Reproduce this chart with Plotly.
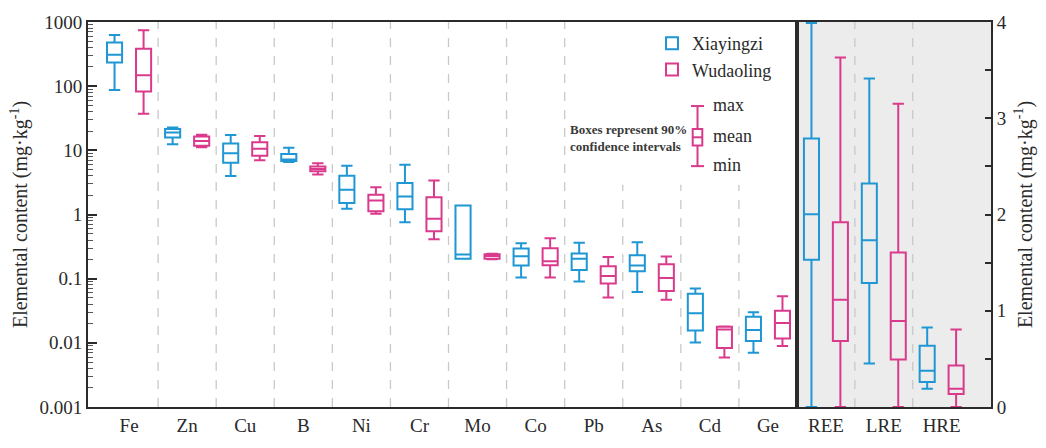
import plotly.graph_objects as go

# ---------------- data ----------------
elements = ["Fe", "Zn", "Cu", "B", "Ni", "Cr", "Mo", "Co", "Pb", "As", "Cd", "Ge"]
ree_groups = ["REE", "LRE", "HRE"]

# Xiayingzi (log panel): min, q1 (5%), mean, q3 (95%), max
xy_min = [87.5, 12.4, 3.97, 6.6, 1.23, 0.76, 0.205, 0.104, 0.090, 0.062, 0.0101, 0.0070]
xy_q1 = [234, 15.8, 6.4, 6.8, 1.51, 1.21, 0.205, 0.160, 0.137, 0.131, 0.0155, 0.0107]
xy_mean = [310, 19.0, 9.0, 7.2, 2.42, 1.90, 0.238, 0.224, 0.204, 0.160, 0.029, 0.0159]
xy_q3 = [478, 21.5, 12.8, 8.8, 4.0, 3.10, 1.38, 0.294, 0.247, 0.232, 0.058, 0.0254]
xy_max = [627, 22.7, 17.4, 11.0, 5.75, 5.97, 1.38, 0.358, 0.363, 0.371, 0.070, 0.030]

# Wudaoling (log panel)
wd_min = [37.1, 11.2, 7.0, 4.2, 1.03, 0.41, 0.200, 0.104, 0.051, 0.047, 0.0059, 0.0089]
wd_q1 = [82.4, 11.8, 8.2, 4.7, 1.12, 0.55, 0.205, 0.162, 0.084, 0.064, 0.0083, 0.0117]
wd_mean = [148, 14.0, 10.6, 5.1, 1.66, 0.86, 0.225, 0.186, 0.110, 0.102, 0.0161, 0.0203]
wd_q3 = [383, 16.5, 13.4, 5.6, 2.03, 1.85, 0.240, 0.297, 0.156, 0.168, 0.0178, 0.0317]
wd_max = [747, 17.5, 16.7, 6.3, 2.66, 3.40, 0.245, 0.427, 0.217, 0.222, 0.0180, 0.053]

# Rare earth panel (linear)
xy_ree_min = [0.0, 0.453, 0.190]
xy_ree_q1 = [1.530, 1.289, 0.261]
xy_ree_mean = [2.003, 1.733, 0.376]
xy_ree_q3 = [2.789, 2.321, 0.636]
xy_ree_max = [3.99, 3.414, 0.826]

wd_ree_min = [0.0, 0.0, 0.0]
wd_ree_q1 = [0.687, 0.494, 0.135]
wd_ree_mean = [1.113, 0.893, 0.190]
wd_ree_q3 = [1.919, 1.604, 0.430]
wd_ree_max = [3.631, 3.150, 0.805]

series_names = ["Xiayingzi", "Wudaoling"]
left_ticks = [0.001, 0.01, 0.1, 1, 10, 100, 1000]
left_ticklabels = ["0.001", "0.01", "0.1", "1", "10", "100", "1000"]
right_ticks = [0, 1, 2, 3, 4]
y_title = "Elemental content (mg·kg<sup>-1</sup>)"

# ---------------- style ----------------
BLUE = "#1f97d4"
PINK = "#d93a8c"
TXT = "#2a2a2a"
FONT = "Liberation Serif"
W, H = 1046, 448
L, R, T, B = 88, 55, 19, 35
split_px = 797

def px_x(p):
    return (p - L) / (W - L - R)

def px_y(p):
    return (H - B - p) / (H - T - B)

fig = go.Figure()

def add_box(x, lo, q1, mid, q3, hi, name, color, xa, ya, show, panel):
    fig.add_trace(go.Box(
        x=x, lowerfence=lo, q1=q1, median=mid, q3=q3, upperfence=hi,
        name=name, legendgroup=name, showlegend=show,
        alignmentgroup=panel, offsetgroup=panel + name,
        line=dict(color=color, width=2), fillcolor="rgba(0,0,0,0)",
        whiskerwidth=0.75, boxpoints=False, xaxis=xa, yaxis=ya,
        hoverinfo="skip",
    ))

add_box(elements, xy_min, xy_q1, xy_mean, xy_q3, xy_max, series_names[0], BLUE, "x", "y", True, "L")
add_box(elements, wd_min, wd_q1, wd_mean, wd_q3, wd_max, series_names[1], PINK, "x", "y", True, "L")
add_box(ree_groups, xy_ree_min, xy_ree_q1, xy_ree_mean, xy_ree_q3, xy_ree_max, series_names[0], BLUE, "x2", "y2", False, "R")
add_box(ree_groups, wd_ree_min, wd_ree_q1, wd_ree_mean, wd_ree_q3, wd_ree_max, series_names[1], PINK, "x2", "y2", False, "R")

dom_split = px_x(split_px)

shapes = []
# gray background of the REE panel
shapes.append(dict(type="rect", xref="x2 domain", yref="y2 domain", x0=0, x1=1, y0=0, y1=1,
                   fillcolor="#ececec", line=dict(width=0), layer="below"))
# dashed separators, left panel
short_top = 2.9
for i in range(len(elements) - 1):
    top = 1000 if i < 8 else short_top
    shapes.append(dict(type="line", xref="x", yref="y", x0=i + 0.5, x1=i + 0.5, y0=0.001, y1=top,
                       line=dict(color="#c9c9c9", width=1.3, dash="dash"), layer="below"))
for i in range(len(ree_groups) - 1):
    shapes.append(dict(type="line", xref="x2", yref="y2 domain", x0=i + 0.5, x1=i + 0.5, y0=0, y1=1,
                       line=dict(color="#c9c9c9", width=1.3, dash="dash"), layer="below"))

# key glyph (max/mean/min)
kx = px_x(697.5)
hw_cap = 6.5 / (W - L - R)
hw_box = 4.8 / (W - L - R)
k_max, k_q3, k_mean, k_q1, k_min = px_y(105), px_y(128.5), px_y(137), px_y(145.5), px_y(166.5)
kl = dict(color=PINK, width=2)
shapes += [
    dict(type="line", xref="paper", yref="paper", x0=kx, x1=kx, y0=k_q3, y1=k_max, line=kl),
    dict(type="line", xref="paper", yref="paper", x0=kx, x1=kx, y0=k_min, y1=k_q1, line=kl),
    dict(type="line", xref="paper", yref="paper", x0=kx - hw_cap, x1=kx + hw_cap, y0=k_max, y1=k_max, line=kl),
    dict(type="line", xref="paper", yref="paper", x0=kx - hw_cap, x1=kx + hw_cap, y0=k_min, y1=k_min, line=kl),
    dict(type="rect", xref="paper", yref="paper", x0=kx - hw_box, x1=kx + hw_box, y0=k_q1, y1=k_q3, line=kl),
    dict(type="line", xref="paper", yref="paper", x0=kx - hw_box, x1=kx + hw_box, y0=k_mean, y1=k_mean, line=kl),
]

annotations = [
    dict(xref="paper", yref="paper", x=px_x(689), y=px_y(138), xanchor="right", yanchor="middle",
         text="<b>Boxes represent 90%<br>confidence intervals</b>", showarrow=False, align="left",
         font=dict(family=FONT, size=13, color="#3a3a3a")),
    dict(xref="paper", yref="paper", x=px_x(711), y=px_y(104), xanchor="left", yanchor="middle",
         text="max", showarrow=False, font=dict(family=FONT, size=18, color=TXT)),
    dict(xref="paper", yref="paper", x=px_x(711), y=px_y(136), xanchor="left", yanchor="middle",
         text="mean", showarrow=False, font=dict(family=FONT, size=18, color=TXT)),
    dict(xref="paper", yref="paper", x=px_x(711), y=px_y(165), xanchor="left", yanchor="middle",
         text="min", showarrow=False, font=dict(family=FONT, size=18, color=TXT)),
]

AX = "#2b2b2b"
fig.update_layout(
    width=W, height=H,
    margin=dict(l=L, r=R, t=T, b=B),
    paper_bgcolor="white", plot_bgcolor="rgba(0,0,0,0)",
    font=dict(family=FONT, size=19, color=TXT),
    boxmode="group", boxgap=0.0, boxgroupgap=0.48,
    showlegend=True,
    legend=dict(x=px_x(652), y=px_y(22), xanchor="left", yanchor="top",
                bgcolor="rgba(0,0,0,0)", font=dict(family=FONT, size=18, color=TXT),
                tracegroupgap=0, itemwidth=30),
    shapes=shapes, annotations=annotations,
    xaxis=dict(domain=[0, dom_split], anchor="y", type="category",
               range=[-0.707, len(elements) - 0.5],
               showline=True, mirror=True, linecolor=AX, linewidth=2,
               ticks="", showgrid=False, zeroline=False,
               tickfont=dict(family=FONT, size=19, color=TXT)),
    yaxis=dict(type="log", range=[-3, 3], anchor="x",
               tickvals=left_ticks, ticktext=left_ticklabels,
               ticks="inside", ticklen=9, tickwidth=1.5, tickcolor=AX,
               minor=dict(ticks="inside", ticklen=5, tickwidth=1.2, tickcolor="#555", dtick="D1", showgrid=False),
               showline=True, mirror=True, linecolor=AX, linewidth=2,
               showgrid=False, zeroline=False,
               title=dict(text=y_title, font=dict(family=FONT, size=20, color=TXT), standoff=6),
               tickfont=dict(family=FONT, size=19, color=TXT)),
    xaxis2=dict(domain=[dom_split, 1], anchor="y2", type="category",
                range=[-0.5, 2.853],
                showline=True, mirror=True, linecolor=AX, linewidth=2,
                ticks="", showgrid=False, zeroline=False,
                tickfont=dict(family=FONT, size=19, color=TXT)),
    yaxis2=dict(range=[0, 4], anchor="x2", side="right",
                tickvals=right_ticks, ticks="inside", ticklen=6, tickwidth=1.5, tickcolor=AX,
                minor=dict(ticks="inside", ticklen=6, tickwidth=1.5, tickcolor=AX, dtick=0.5, showgrid=False),
                showline=True, mirror=True, linecolor=AX, linewidth=2,
                showgrid=False, zeroline=False,
                title=dict(text=y_title, font=dict(family=FONT, size=20, color=TXT), standoff=12),
                tickfont=dict(family=FONT, size=19, color=TXT)),
)

fig.write_html("out.html")
